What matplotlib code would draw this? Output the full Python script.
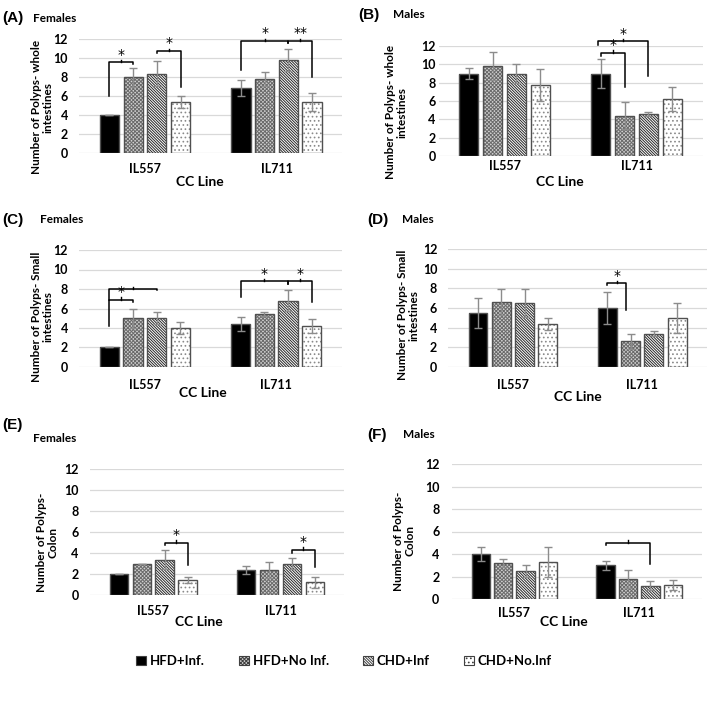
import matplotlib.pyplot as plt
from matplotlib.patches import Patch

plt.rcParams['font.family'] = ['Lato', 'DejaVu Sans']
plt.rcParams['font.weight'] = 'bold'
plt.rcParams['axes.labelweight'] = 'bold'
plt.rcParams['hatch.linewidth'] = 0.7

lines = ["IL557", "IL711"]
groups = ["HFD+Inf.", "HFD+No Inf.", "CHD+Inf", "CHD+No.Inf"]

# panel A: females, whole intestines
a_mean = [[4.0, 8.0, 8.35, 5.4], [6.8, 7.8, 9.8, 5.4]]
a_err = [[0.05, 1.0, 1.3, 0.65], [0.85, 0.75, 1.15, 0.95]]
# panel B: males, whole intestines
b_mean = [[9.0, 9.8, 9.0, 7.7], [9.0, 4.4, 4.6, 6.2]]
b_err = [[0.6, 1.5, 1.0, 1.75], [1.55, 1.5, 0.25, 1.3]]
# panel C: females, small intestines
c_mean = [[2.0, 5.0, 5.0, 4.0], [4.4, 5.4, 6.8, 4.2]]
c_err = [[0.0, 1.0, 0.6, 0.65], [0.7, 0.2, 1.05, 0.7]]
# panel D: males, small intestines
d_mean = [[5.5, 6.6, 6.5, 4.35], [6.0, 2.6, 3.4, 5.0]]
d_err = [[1.5, 1.3, 1.45, 0.6], [1.6, 0.75, 0.25, 1.5]]
# panel E: females, colon
e_mean = [[2.0, 3.0, 3.35, 1.4], [2.4, 2.4, 3.0, 1.2]]
e_err = [[0.0, 0.0, 0.9, 0.28], [0.4, 0.75, 0.56, 0.5]]
# panel F: males, colon
f_mean = [[4.0, 3.2, 2.5, 3.3], [3.0, 1.8, 1.2, 1.25]]
f_err = [[0.6, 0.36, 0.5, 1.35], [0.4, 0.8, 0.38, 0.47]]

# brackets: (line, bar_from, y_from, y_top, bar_to, y_to, label)
a_sig = [(0, 0, 6.0, 9.55, 1, 9.35, "*"), (0, 2, 10.5, 10.75, 3, 6.9, "*"),
         (1, 0, 8.75, 11.8, 2, 11.6, "*"), (1, 2, 11.6, 11.8, 3, 7.95, "**")]
b_sig = [(1, 0, 10.9, 11.28, 1, 7.57, "*"), (1, -0.1, 12.1, 12.54, 2, 8.75, "*")]
c_sig = [(0, 0, 4.16, 6.9, 1, 6.69, "*"), (0, 0, 6.9, 8.0, 2, 7.85, ""),
         (1, 0, 7.13, 8.77, 2, 8.5, "*"), (1, 2, 8.5, 8.77, 3, 6.69, "*")]
d_sig = [(1, 0, 8.33, 8.54, 0.8, 5.75, "*")]
e_sig = [(0, 2, 4.73, 4.98, 3, 2.84, "*"), (1, 2, 4.04, 4.32, 3, 2.62, "*")]
f_sig = [(1, 0, 4.8, 5.0, 2, 3.09, "")]

styles = [
    dict(fc="black", hatch=None, hc="black"),
    dict(fc="#d0d0d0", hatch="xxxxxxxxx", hc="#6a6a6a"),
    dict(fc="white", hatch="\\\\\\\\\\\\\\\\\\\\\\\\", hc="#262626"),
    dict(fc="white", hatch="....", hc="#8a8a8a"),
]
step = 0.18
width = 0.146

fig = plt.figure(figsize=(7.09, 7.02), dpi=100)
W, H = 709.0, 702.0


def make_ax(x0, y0, x1, y1):
    return fig.add_axes([x0 / W, 1 - y1 / H, (x1 - x0) / W, (y1 - y0) / H])


def bx(c, i):
    return c + (i - 1.5) * step


def panel(ax, mean, err, sig, ylab, ylab_x, ylab_y, xlab_xy, ypad, xpad):
    for i in range(4):
        xs = [bx(c, i) for c in range(2)]
        ys = [mean[c][i] for c in range(2)]
        es = [err[c][i] for c in range(2)]
        st = styles[i]
        ax.bar(xs, ys, width, color=st["fc"], hatch=st["hatch"],
               edgecolor=st["hc"], linewidth=0, zorder=2)
        ax.bar(xs, ys, width, fill=False, edgecolor="#505050",
               linewidth=1.0, zorder=3)
        ax.errorbar(xs, ys, yerr=es, fmt="none", ecolor="#8c8c8c",
                    elinewidth=1.0, capsize=3, capthick=1.0, zorder=4)
    for (c, i1, y1, yt, i2, y2, lab) in sig:
        xa, xb = bx(c, i1), bx(c, i2)
        ax.plot([xa, xa, xb, xb], [y1, yt, yt, y2], color="black",
                lw=1.1, clip_on=False, zorder=5)
        xm = (xa + xb) / 2
        ax.plot([xm, xm], [yt, yt + 0.25], color="black", lw=1.0,
                clip_on=False, zorder=5)
        if lab:
            ax.text(xm, yt + 0.05, lab, ha="center", va="bottom",
                    fontsize=10, fontweight="normal", clip_on=False,
                    family="DejaVu Sans")
    ax.set_xlim(-0.5, 1.5)
    ax.set_ylim(0, 12)
    ax.set_yticks(range(0, 13, 2))
    ax.set_xticks(range(2))
    ax.set_xticklabels(lines)
    ax.yaxis.grid(True, color="#d9d9d9", lw=0.9, zorder=0)
    ax.set_axisbelow(True)
    for s in ax.spines.values():
        s.set_visible(False)
    ax.tick_params(length=0, labelsize=9)
    ax.tick_params(axis="y", pad=ypad)
    ax.tick_params(axis="x", pad=xpad)
    ax.set_ylabel(ylab, fontsize=8.5, ha="center", va="center",
                  linespacing=1.05)
    ax.yaxis.set_label_coords(ylab_x, ylab_y)
    ax.set_xlabel("CC Line", fontsize=10, va="center")
    ax.xaxis.set_label_coords(*xlab_xy)


ax_a = make_ax(79.25, 39, 342.25, 153)
panel(ax_a, a_mean, a_err, a_sig, "Number of Polyps- whole\nintestines",
      -0.142, 0.4, (0.46, -0.254), 8, 7)
ax_b = make_ax(438.5, 46, 702.5, 156)
panel(ax_b, b_mean, b_err, b_sig, "Number of Polyps- whole\nintestines",
      -0.162, 0.4, (0.46, -0.236), 2, 3)
ax_c = make_ax(79, 250, 342, 367)
panel(ax_c, c_mean, c_err, c_sig, "Number of Polyps- Small\nintestines",
      -0.14, 0.43, (0.47, -0.222), 8, 8.5)
ax_d = make_ax(448.3, 249, 706.9, 367)
panel(ax_d, d_mean, d_err, d_sig, "Number of Polyps- Small\nintestines",
      -0.156, 0.44, (0.5, -0.254), 8, 8.5)
ax_e = make_ax(89.7, 469, 344.1, 595)
panel(ax_e, e_mean, e_err, e_sig, "Number of Polyps-\nColon",
      -0.166, 0.42, (0.43, -0.214), 8, 7)
ax_f = make_ax(451.9, 464, 701.7, 599)
panel(ax_f, f_mean, f_err, f_sig, "Number of Polyps-\nColon",
      -0.19, 0.43, (0.45, -0.17), 9, 6)

titles = [("(A)", 2, 18, "Females", 33, 18), ("(B)", 358, 15, "Males", 393, 15),
          ("(C)", 2, 220, "Females", 40, 220), ("(D)", 367, 220, "Males", 402, 220),
          ("(E)", 2, 425, "Females", 33, 438), ("(F)", 367, 435, "Males", 403, 435)]
for lab, x1, y1, sex, x2, y2 in titles:
    fig.text(x1 / W, 1 - y1 / H, lab, fontsize=11, fontweight="bold",
             ha="left", va="center", family=["Liberation Sans", "DejaVu Sans"])
    fig.text(x2 / W, 1 - y2 / H, sex, fontsize=8.5, fontweight="bold",
             ha="left", va="center")

handles = [Patch(facecolor=st["fc"], hatch=st["hatch"], edgecolor="#404040",
                 linewidth=0.8) for st in styles]
fig.legend(handles, groups, loc="center", bbox_to_anchor=(0.485, 1 - 661 / H),
           ncol=4, frameon=False, handlelength=0.75, handleheight=0.75,
           handletextpad=0.3, columnspacing=2.6,
           prop=dict(size=9.5, weight="bold"))

fig.savefig("out.png", dpi=100)
